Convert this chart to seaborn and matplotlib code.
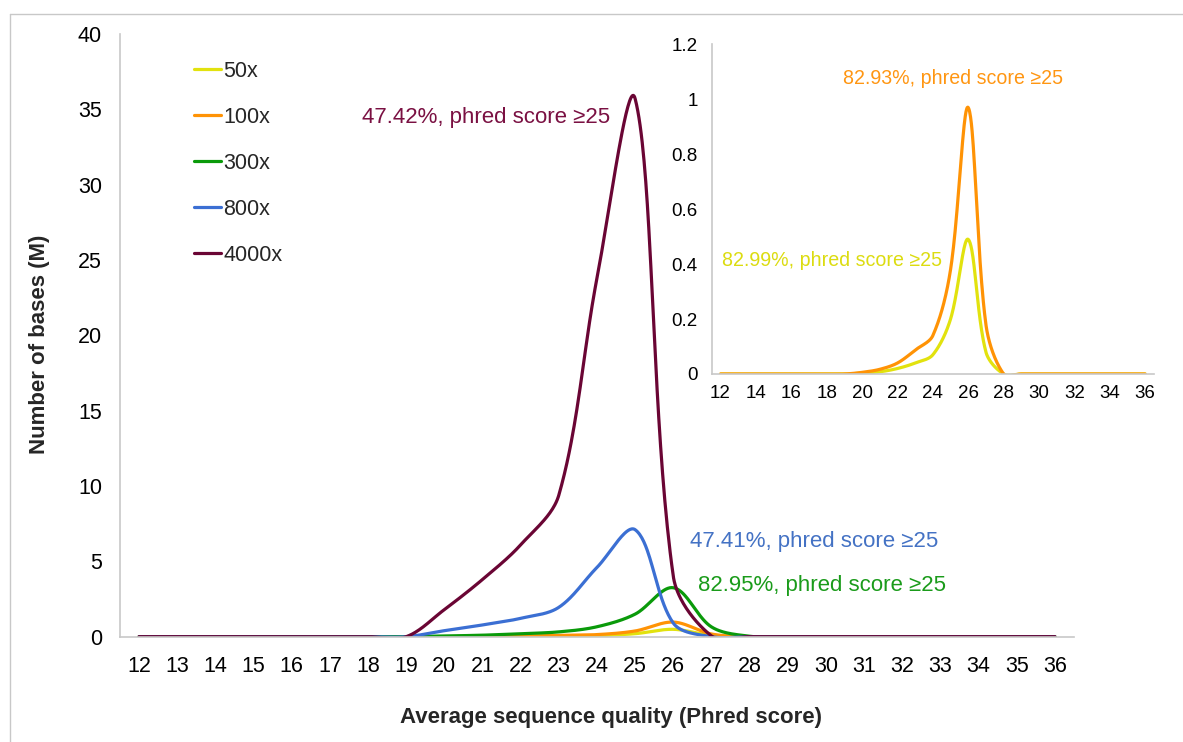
import numpy as np
import pandas as pd
import matplotlib
matplotlib.use("Agg")
import matplotlib.pyplot as plt
from matplotlib.lines import Line2D
import seaborn as sns

# ---------------- data ----------------
quality = [12, 13, 14, 15, 16, 17, 18, 19, 20, 21, 22, 23, 24,
           25, 26, 27, 28, 29, 30, 31, 32, 33, 34, 35, 36]
series_names = ["50x", "100x", "300x", "800x", "4000x"]
bases_50x = [0, 0, 0, 0, 0, 0, 0, 0, 0.003, 0.008, 0.02, 0.04, 0.07,
             0.2, 0.49, 0.08, 0, 0, 0, 0, 0, 0, 0, 0, 0]
bases_100x = [0, 0, 0, 0, 0, 0, 0, 0, 0.006, 0.017, 0.04, 0.087, 0.14,
              0.38, 0.97, 0.18, 0, 0, 0, 0, 0, 0, 0, 0, 0]
bases_300x = [0, 0, 0, 0, 0, 0, 0, 0, 0.05, 0.1, 0.2, 0.32, 0.66,
              1.5, 3.25, 0.65, 0.03, 0, 0, 0, 0, 0, 0, 0, 0]
bases_800x = [0, 0, 0, 0, 0, 0, 0, 0, 0.4, 0.78, 1.22, 1.95, 4.6,
              7.1, 0.9, 0, 0, 0, 0, 0, 0, 0, 0, 0, 0]
bases_4000x = [0, 0, 0, 0, 0, 0, 0, 0, 1.8, 3.8, 6.1, 9.4, 23.8,
               35.7, 4.0, 0.05, 0, 0, 0, 0, 0, 0, 0, 0, 0]
annotations_main = ["47.42%, phred score \u226525", "47.41%, phred score \u226525",
                    "82.95%, phred score \u226525"]
annotations_inset = ["82.93%, phred score \u226525", "82.99%, phred score \u226525"]

colors = {"50x": "#E2E20E", "100x": "#FF9305", "300x": "#0A9A0A",
          "800x": "#3B6FD3", "4000x": "#6A0534"}
text_colors = {"50x": "#DCDC10", "100x": "#FF9612", "300x": "#1A9B1A",
               "800x": "#4472C4", "4000x": "#7A1042"}


def smooth(xs, ys, sx, sy, n=40):
    """Excel-style smoothed line: Bezier through the points, control
    handles weighted by on-screen segment lengths."""
    p = np.column_stack([np.asarray(xs, float) * sx, np.asarray(ys, float) * sy])
    out = []
    m = len(p)
    for i in range(m - 1):
        p0 = p[i - 1] if i > 0 else p[i]
        p1, p2 = p[i], p[i + 1]
        p3 = p[i + 2] if i + 2 < m else p[i + 1]
        d01 = np.hypot(*(p1 - p0))
        d12 = np.hypot(*(p2 - p1))
        d23 = np.hypot(*(p3 - p2))
        f1 = d12 / (3 * (d01 + d12)) if d01 + d12 > 0 else 0
        f2 = d12 / (3 * (d12 + d23)) if d12 + d23 > 0 else 0
        c1 = p1 + (p2 - p0) * f1
        c2 = p2 - (p3 - p1) * f2
        t = np.linspace(0, 1, n, endpoint=(i == m - 2))[:, None]
        seg = ((1 - t) ** 3) * p1 + 3 * ((1 - t) ** 2) * t * c1 + 3 * (1 - t) * t ** 2 * c2 + t ** 3 * p2
        out.append(seg)
    s = np.vstack(out)
    return s[:, 0] / sx, s[:, 1] / sy


series_values = dict(zip(series_names,
                         [bases_50x, bases_100x, bases_300x, bases_800x, bases_4000x]))


def smoothed_frame(ax, names):
    bb = ax.get_window_extent()
    x0, x1 = ax.get_xlim()
    y0, y1 = ax.get_ylim()
    sx = bb.width / (x1 - x0)
    sy = bb.height / (y1 - y0)
    frames = []
    for name in names:
        xs, ys = smooth(quality, series_values[name], sx, sy)
        frames.append(pd.DataFrame({"q": xs, "bases": ys, "series": name}))
    return pd.concat(frames, ignore_index=True)


# ---------------- figure ----------------
sns.set_theme(style="white")
plt.rcParams["font.family"] = ["Liberation Sans", "DejaVu Sans"]

W, H = 1183, 742
fig = plt.figure(figsize=(W / 100, H / 100), dpi=100)
fig.patch.set_facecolor("white")

# outer light border (left and top visible)
fig.add_artist(Line2D([9.5 / W, 9.5 / W], [0, 1 - 13.5 / H], transform=fig.transFigure,
                      color="#C8C8C8", lw=1))
fig.add_artist(Line2D([9.5 / W, 1], [1 - 13.5 / H, 1 - 13.5 / H], transform=fig.transFigure,
                      color="#C8C8C8", lw=1))

ax = fig.add_axes([120 / W, 1 - 636.7 / H, 954 / W, 602.7 / H])
ax.set_xlim(11.5, 36.5)
ax.set_ylim(0, 40)
df = smoothed_frame(ax, series_names)
sns.lineplot(data=df, x="q", y="bases", hue="series",
             palette=colors, hue_order=series_names, sort=False, estimator=None,
             lw=2.3, legend=False, ax=ax)
ax.set_xlim(11.5, 36.5)
ax.set_ylim(0, 40)
ax.set_xticks(quality)
ax.set_xticklabels([str(q) for q in quality])
ax.set_yticks(range(0, 41, 5))
for sp in ["top", "right"]:
    ax.spines[sp].set_visible(False)
for sp in ["left", "bottom"]:
    ax.spines[sp].set_color("#C8C8C8")
    ax.spines[sp].set_linewidth(1.2)
ax.tick_params(axis="both", length=0, labelsize=15.5, colors="black")
ax.tick_params(axis="x", pad=14)
ax.tick_params(axis="y", pad=13)
ax.set_xlabel("Average sequence quality (Phred score)", fontsize=16, fontweight="bold")
ax.set_ylabel("Number of bases (M)", fontsize=16, fontweight="bold")
ax.xaxis.set_label_coords((611 - 120) / 954, (636.7 - 717) / 602.7)
ax.xaxis.label.set_va("center")
ax.yaxis.set_label_coords((40 - 120) / 954, (636.7 - 344) / 602.7)
ax.yaxis.label.set_va("center")
ax.patch.set_alpha(0)

handles = [Line2D([], [], color=colors[n], lw=2.3) for n in series_names]
fig.legend(handles, series_names, loc="upper left",
           bbox_to_anchor=(194 / W, 1 - 61 / H), bbox_transform=fig.transFigure,
           frameon=False, fontsize=15.5, handlelength=1.25, handletextpad=0.1,
           labelspacing=1.16, borderpad=0, borderaxespad=0)

ax.text(362 / W, 1 - 118 / H, annotations_main[0], transform=fig.transFigure,
        color=text_colors["4000x"], fontsize=16, va="center", ha="left")
ax.text(690 / W, 1 - 541 / H, annotations_main[1], transform=fig.transFigure,
        color=text_colors["800x"], fontsize=16, va="center", ha="left")
ax.text(698 / W, 1 - 586 / H, annotations_main[2], transform=fig.transFigure,
        color=text_colors["300x"], fontsize=16, va="center", ha="left")

# ---------------- inset ----------------
ins = fig.add_axes([711.7 / W, 1 - 374 / H, (1154 - 711.7) / W, (374 - 44.4) / H])
ins.set_xlim(11.5, 36.5)
ins.set_ylim(0, 1.2)
df_in = smoothed_frame(ins, ["50x", "100x"])
sns.lineplot(data=df_in, x="q", y="bases", hue="series", palette=colors,
             hue_order=["50x", "100x"], sort=False, estimator=None, lw=2.3,
             legend=False, ax=ins)
ins.set_xlim(11.5, 36.5)
ins.set_ylim(0, 1.2)
ins.set_xticks(quality[::2])
ins.set_xticklabels([str(q) for q in quality[::2]])
ins.set_yticks([0, 0.2, 0.4, 0.6, 0.8, 1.0, 1.2])
ins.set_yticklabels(["0", "0.2", "0.4", "0.6", "0.8", "1", "1.2"])
for sp in ["top", "right"]:
    ins.spines[sp].set_visible(False)
for sp in ["left", "bottom"]:
    ins.spines[sp].set_color("#C8C8C8")
    ins.spines[sp].set_linewidth(1.2)
ins.tick_params(axis="both", length=0, labelsize=13.5, colors="black")
ins.tick_params(axis="x", pad=8)
ins.tick_params(axis="y", pad=10)
ins.set_xlabel("")
ins.set_ylabel("")
ins.patch.set_alpha(0)

ins.text(843 / W, 1 - 78 / H, annotations_inset[0], transform=fig.transFigure,
         color=text_colors["100x"], fontsize=14.1, va="center", ha="left")
ins.text(722 / W, 1 - 260 / H, annotations_inset[1], transform=fig.transFigure,
         color=text_colors["50x"], fontsize=14.1, va="center", ha="left")

fig.savefig("out.png", dpi=100, facecolor="white")
